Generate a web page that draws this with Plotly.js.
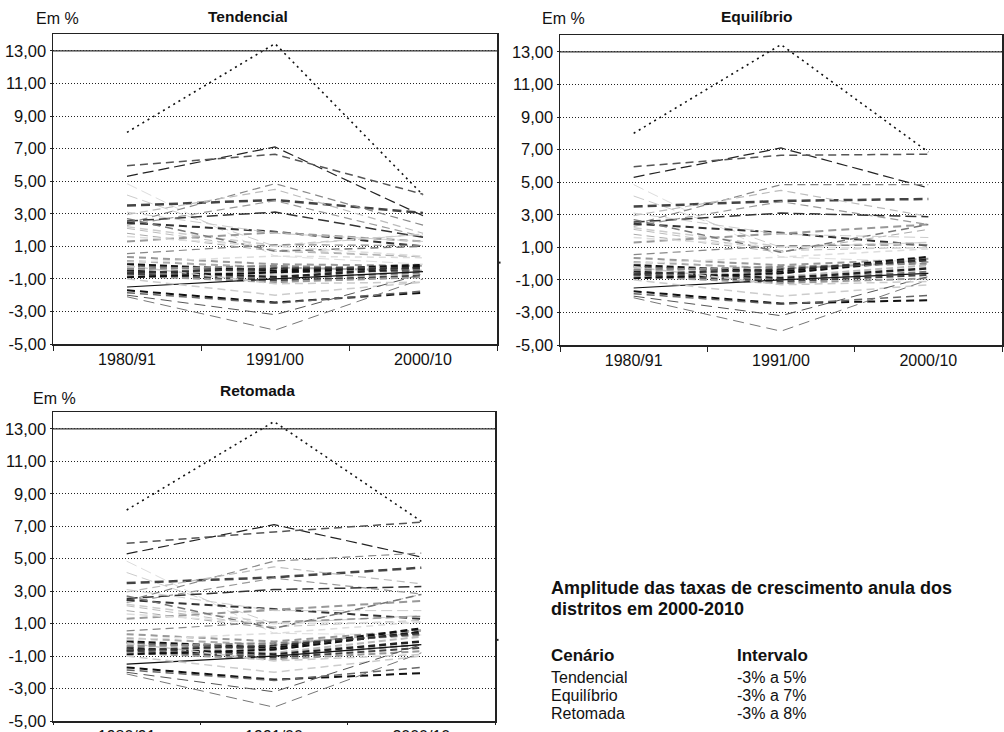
<!DOCTYPE html>
<html>
<head>
<meta charset="utf-8">
<script src="https://cdn.plot.ly/plotly-3.0.1.min.js"></script>
<style>
  html, body { margin: 0; padding: 0; background: #ffffff; }
  #chart { width: 1004px; height: 732px; }
</style>
</head>
<body>
<div id="chart"></div>
<script>
// Periods on the horizontal axis
const periods = ['1980/91', '1991/00', '2000/10'];

// Y axis ticks (Portuguese decimal comma)
const yTickVals = [-5, -3, -1, 1, 3, 5, 7, 9, 11, 13];
const yTickText = ['-5,00', '-3,00', '-1,00', '1,00', '3,00', '5,00', '7,00', '9,00', '11,00', '13,00'];

// Annual growth rate (%) per district, observed periods
const rate1980_91 = [8.00, 5.30, 5.95, 4.85, 4.15, 3.50, 2.40, 2.95, 2.30, 2.55,
                     2.45, 1.30, 2.20, 2.10, 1.80, 2.70, 1.60, 0.55, 0.35, 0.10,
                     -0.10, -0.20, -0.30, -0.50, -0.60, -0.70, -0.80, -0.90, -1.50, -1.00,
                     -1.70, -1.85, -2.00, -2.10, 0.00, -0.20, 3.10, -0.40, -0.65];
const rate1991_00 = [13.45, 7.10, 6.65, 0.40, 1.00, 3.85, 4.85, 4.50, 3.80, 3.10,
                     1.90, 1.85, 1.05, 0.80, 0.70, 0.70, 1.00, 1.10, -0.10, -0.30,
                     -0.50, -0.60, -0.80, -0.90, -1.00, -1.10, -1.20, -0.60, -1.00, -2.00,
                     -2.45, -2.50, -3.20, -4.15, 0.40, -1.30, 1.80, -0.20, -0.35];

// Projected 2000/10 rate per scenario
const tendencial2000_10 = [4.15, 2.88, 4.20, -0.10, 1.75, 3.05, 2.30, 1.80, 1.60, 1.55,
                           1.00, 1.30, 1.75, 0.35, 0.35, 1.00, 0.40, 1.05, -0.20, -0.50,
                           -0.15, -0.50, -0.70, -0.30, -0.60, -0.80, -0.90, -0.25, -0.55, -1.20,
                           -1.85, -1.75, -0.70, -1.00, 0.30, -1.20, 1.30, -0.40, -0.35];
const equilibrio2000_10 = [6.85, 4.65, 6.72, 0.10, 1.30, 3.97, 4.85, 2.90, 2.40, 2.88,
                           1.10, 2.40, 1.30, 1.00, 2.10, 2.40, 0.95, 1.15, 0.30, 0.10,
                           0.40, 0.30, -0.10, -0.30, -0.50, -0.70, -0.90, 0.25, -0.60, -1.30,
                           -2.25, -1.95, -0.80, -1.00, 0.90, -1.10, 1.60, 0.00, 0.20];
const retomada2000_10 = [7.30, 5.10, 7.25, 0.30, 1.50, 4.45, 5.35, 3.45, 2.83, 3.28,
                         1.30, 2.40, 1.45, 1.20, 2.80, 2.80, 1.10, 1.45, 0.60, 0.55,
                         0.70, 0.50, 0.20, -0.10, -0.30, -0.50, -0.70, 0.50, -0.30, -1.00,
                         -2.05, -1.70, -0.30, -0.80, 1.10, -0.90, 1.80, 0.30, 0.40];

const scenarioTitles = ['Tendencial', 'Equilíbrio', 'Retomada'];
const unitLabel = 'Em %';
const upperRefLine = 13;

// Side table
const tableHeading = ['Amplitude das taxas de crescimento anula dos', 'distritos em 2000-2010'];
const tableColumns = ['Cenário', 'Intervalo'];
const tableScenarios = ['Tendencial', 'Equilíbrio', 'Retomada'];
const tableRanges = ['-3% a 5%', '-3% a 7%', '-3% a 8%'];

// Line styles per district (kept apart from the values)
const lineColors = ['#111', '#222', '#555', '#ddd', '#ccc', '#444', '#888', '#bbb', '#999', '#333',
                    '#333', '#999', '#ccc', '#bbb', '#aaa', '#777', '#ddd', '#888', '#999', '#aaa',
                    '#111', '#666', '#bbb', '#222', '#777', '#444', '#999', '#111', '#111', '#ccc',
                    '#111', '#666', '#555', '#777', '#ddd', '#ccc', '#ccc', '#888', '#333'];
const lineDashes = ['2px,4px', '11px,5px', '8px,5px', '11px,5px', '11px,5px', '9px,5px', '8px,5px', '8px,5px', '8px,5px', '11px,5px',
                    '8px,5px', '8px,5px', '8px,5px', '8px,5px', '8px,5px', '8px,5px', '8px,5px', '8px,5px', '7px,5px', '7px,5px',
                    '7px,4px', '7px,4px', '7px,4px', '7px,4px', '7px,4px', '7px,4px', '7px,4px', '7px,4px', 'solid', '8px,5px',
                    '8px,5px', '8px,5px', '11px,6px', '11px,6px', '7px,5px', '8px,5px', '11px,5px', '7px,4px', '7px,4px'];
const lineWidths = [1.6, 1.2, 1.5, 1, 1, 2.5, 1.2, 1.2, 1.2, 1.5,
                    2, 2, 1.5, 1, 1, 1.5, 1.5, 1.2, 2, 2,
                    2.5, 2, 2, 2.5, 2, 2, 2, 2, 1.2, 1.5,
                    2, 1.5, 1, 1, 1.5, 1.5, 1, 2, 2];

const W = 1004, H = 732;
const fx = px => px / W;
const fy = px => 1 - px / H;
const FONT = '"Liberation Sans", Arial, Helvetica, sans-serif';

const endings = [tendencial2000_10, equilibrio2000_10, retomada2000_10];
const suffixes = ['', '2', '3'];

const traces = [];
endings.forEach((ends, s) => {
  const sfx = suffixes[s];
  rate1980_91.forEach((v, i) => {
    traces.push({
      type: 'scatter',
      mode: 'lines',
      x: periods,
      y: [v, rate1991_00[i], ends[i]],
      xaxis: 'x' + sfx,
      yaxis: 'y' + sfx,
      line: { color: lineColors[i], dash: lineDashes[i], width: lineWidths[i] },
      hoverinfo: 'skip',
      showlegend: false
    });
  });
});

function xAxis(domain, anchor, tickLen) {
  return {
    domain: domain, anchor: anchor, type: 'category', range: [-0.5, 2.5],
    showline: true, mirror: true, linecolor: '#222', linewidth: 1.5,
    ticks: 'outside', tickson: 'boundaries', ticklen: tickLen, tickcolor: '#222', tickwidth: 1,
    showgrid: false, zeroline: false, automargin: false, fixedrange: true,
    tickfont: { family: FONT, size: 16, color: '#111' }
  };
}
function yAxis(domain, anchor) {
  return {
    domain: domain, anchor: anchor, range: [-5, 14.04],
    tickmode: 'array', tickvals: yTickVals, ticktext: yTickText,
    showline: true, mirror: true, linecolor: '#222', linewidth: 1.5,
    ticks: 'outside', ticklen: 2, tickcolor: '#222',
    showgrid: true, gridcolor: '#222', griddash: '1px,2px', gridwidth: 1,
    zeroline: false, automargin: false, fixedrange: true,
    tickfont: { family: FONT, size: 16.5, color: '#111' }
  };
}

// Panel frames in pixels: [left, right, top, bottom]
const frames = [[53, 497, 34, 344], [560, 1002, 35, 345], [53, 495, 412, 721]];

const layout = {
  width: W, height: H,
  margin: { l: 0, r: 0, t: 0, b: 0 },
  paper_bgcolor: '#ffffff', plot_bgcolor: '#ffffff',
  font: { family: FONT, color: '#111' },
  xaxis: xAxis([fx(frames[0][0]), fx(frames[0][1])], 'y', 5),
  yaxis: yAxis([fy(frames[0][3]), fy(frames[0][2])], 'x'),
  xaxis2: xAxis([fx(frames[1][0]), fx(frames[1][1])], 'y2', 5),
  yaxis2: yAxis([fy(frames[1][3]), fy(frames[1][2])], 'x2'),
  xaxis3: xAxis([fx(frames[2][0]), fx(frames[2][1])], 'y3', 2),
  yaxis3: yAxis([fy(frames[2][3]), fy(frames[2][2])], 'x3'),
  shapes: [],
  annotations: []
};

suffixes.forEach(sfx => {
  layout.shapes.push({
    type: 'line', xref: 'x' + sfx + ' domain', yref: 'y' + sfx,
    x0: 0, x1: 1, y0: upperRefLine, y1: upperRefLine,
    line: { color: '#333', width: 1.3 }
  });
  layout.shapes.push({
    type: 'line', xref: 'x' + sfx + ' domain', yref: 'y' + sfx,
    x0: 1, x1: 1.008, y0: 0, y1: 0,
    line: { color: '#222', width: 2 }
  });
});

// Panel titles and unit labels
const titlePos = [[248, 16], [756, 17], [257, 390]];
const unitPos = [[57, 18], [563, 18], [54, 398]];
scenarioTitles.forEach((t, k) => {
  layout.annotations.push({
    text: '<b>' + t + '</b>', xref: 'paper', yref: 'paper',
    x: fx(titlePos[k][0]), y: fy(titlePos[k][1]), xanchor: 'center', yanchor: 'middle',
    showarrow: false, font: { family: FONT, size: 15.5, color: '#111' }
  });
  layout.annotations.push({
    text: unitLabel, xref: 'paper', yref: 'paper',
    x: fx(unitPos[k][0]), y: fy(unitPos[k][1]), xanchor: 'center', yanchor: 'middle',
    showarrow: false, font: { family: FONT, size: 16, color: '#111' }
  });
});

// Side table
const tx0 = 550, tx1 = 736;
function addText(text, x, y, bold, size) {
  layout.annotations.push({
    text: bold ? '<b>' + text + '</b>' : text, xref: 'paper', yref: 'paper',
    x: fx(x), y: fy(y), xanchor: 'left', yanchor: 'middle', borderpad: 0,
    showarrow: false, font: { family: FONT, size: size, color: '#111' }
  });
}
addText(tableHeading[0], tx0, 588, true, 18);
addText(tableHeading[1], tx0, 609, true, 18);
addText(tableColumns[0], tx0, 655, true, 17);
addText(tableColumns[1], tx1, 655, true, 17);
tableScenarios.forEach((s, k) => {
  addText(s, tx0, 677 + k * 18, false, 16);
  addText(tableRanges[k], tx1, 677 + k * 18, false, 16);
});

Plotly.newPlot('chart', traces, layout, { displayModeBar: false, staticPlot: true });
</script>
</body>
</html>
